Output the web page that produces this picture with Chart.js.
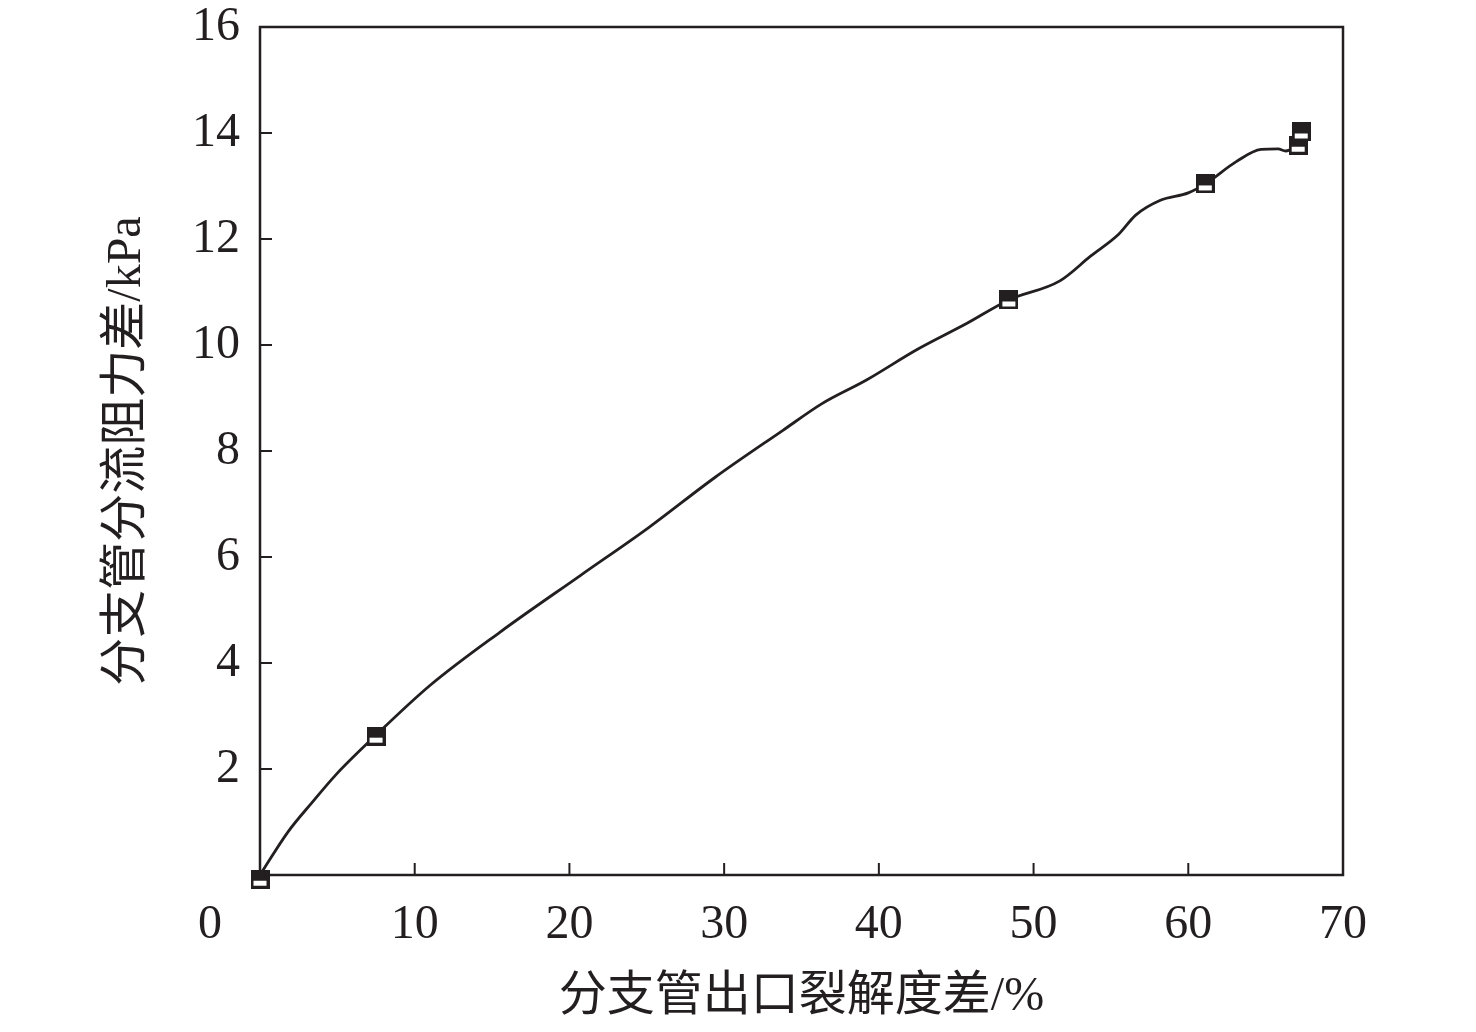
<!DOCTYPE html>
<html>
<head>
<meta charset="utf-8">
<script src="https://cdn.jsdelivr.net/npm/chart.js@4/dist/chart.umd.min.js"></script>
<style>
  html, body { margin: 0; padding: 0; background: #fff; }
  #wrap { width: 1476px; height: 1032px; }
</style>
</head>
<body>
<div id="wrap"><canvas id="c" width="1476" height="1032"></canvas></div>
<script>
// smooth curve
const curveX = [0, 1.8, 3.4, 4.9, 7.5, 11.0, 15.5, 20.7, 25.1, 29.4, 33.8, 36.3, 39.2, 42.5, 45.7, 48.4, 51.7, 53.7, 55.5, 56.6, 58.2, 60.0, 61.1, 63.1, 64.7, 65.8, 66.3, 67.1];
const curveY = [0, 0.81, 1.38, 1.89, 2.64, 3.58, 4.58, 5.65, 6.55, 7.50, 8.39, 8.89, 9.34, 9.92, 10.41, 10.85, 11.21, 11.68, 12.09, 12.45, 12.73, 12.87, 13.04, 13.46, 13.69, 13.70, 13.66, 13.78];

// measured points
const markX = [0, 7.5, 48.4, 61.1, 67.1, 67.3];
const markY = [-0.08, 2.62, 10.85, 13.04, 13.77, 14.02];

const xTicks = [0, 10, 20, 30, 40, 50, 60, 70];
const yTicks = [0, 2, 4, 6, 8, 10, 12, 14, 16];

const ink = '#231f20';
const numFont = '"Liberation Serif", "DejaVu Serif", serif';
const cjkFont = '"Liberation Serif", "Noto Sans CJK SC", serif';

// half-filled square marker
const marker = document.createElement('canvas');
marker.width = 19; marker.height = 19;
(function () {
  const g = marker.getContext('2d');
  g.fillStyle = ink;
  g.fillRect(0, 0, 19, 19);
  g.fillStyle = '#fff';
  g.fillRect(3, 11, 13, 5);
})();

const frame = {
  id: 'frame',
  afterDraw(chart) {
    const { ctx, chartArea: a, scales } = chart;
    ctx.save();
    ctx.strokeStyle = ink;
    ctx.lineWidth = 2.5;
    ctx.strokeRect(a.left, a.top, a.right - a.left, a.bottom - a.top);
    ctx.lineWidth = 2;
    ctx.beginPath();
    xTicks.slice(1, -1).forEach(v => {
      const px = scales.x.getPixelForValue(v);
      ctx.moveTo(px, a.bottom);
      ctx.lineTo(px, a.bottom - 12);
    });
    yTicks.slice(1, -1).forEach(v => {
      const py = scales.y.getPixelForValue(v);
      ctx.moveTo(a.left, py);
      ctx.lineTo(a.left + 12, py);
    });
    ctx.stroke();
    ctx.fillStyle = ink;
    ctx.font = '48px ' + numFont;
    ctx.textAlign = 'center';
    ctx.textBaseline = 'middle';
    ctx.fillText('0', a.left - 50, a.bottom + 50);
    ctx.restore();
  }
};

new Chart(document.getElementById('c'), {
  type: 'scatter',
  data: {
    datasets: [
      {
        data: curveX.map((x, i) => ({ x: x, y: curveY[i] })),
        showLine: true,
        borderColor: ink,
        borderWidth: 2.8,
        cubicInterpolationMode: 'monotone',
        pointRadius: 0,
        order: 2
      },
      {
        data: markX.map((x, i) => ({ x: x, y: markY[i] })),
        showLine: false,
        pointStyle: marker,
        pointRadius: 9,
        clip: false,
        order: 1
      }
    ]
  },
  options: {
    responsive: false,
    animation: false,
    layout: { padding: { top: 27, right: 133, left: 0, bottom: 0 } },
    plugins: { legend: { display: false }, tooltip: { enabled: false } },
    scales: {
      x: {
        type: 'linear', min: 0, max: 70,
        afterBuildTicks: s => { s.ticks = xTicks.map(v => ({ value: v })); },
        afterFit: s => { s.height = 157; s.paddingLeft = 0; s.paddingRight = 0; },
        grid: { display: false, drawTicks: false },
        border: { display: false },
        ticks: {
          padding: 22,
          color: ink,
          font: { family: numFont, size: 48 },
          callback: v => v === 0 ? '' : v
        },
        title: {
          display: true, text: '分支管出口裂解度差/%', color: ink,
          font: { family: cjkFont, size: 48 }, padding: { top: 0, bottom: 6 }
        }
      },
      y: {
        type: 'linear', min: 0, max: 16,
        afterBuildTicks: s => { s.ticks = yTicks.map(v => ({ value: v })); },
        afterFit: s => { s.width = 260; s.paddingTop = 0; s.paddingBottom = 0; },
        grid: { display: false, drawTicks: false },
        border: { display: false },
        ticks: {
          padding: 20,
          color: ink,
          font: { family: numFont, size: 48 },
          callback: v => v === 0 ? '' : v
        },
        title: {
          display: true, text: '分支管分流阻力差/kPa', color: ink,
          font: { family: cjkFont, size: 48 }, padding: { top: 99, bottom: 0 }
        }
      }
    }
  },
  plugins: [frame]
});
</script>
</body>
</html>
